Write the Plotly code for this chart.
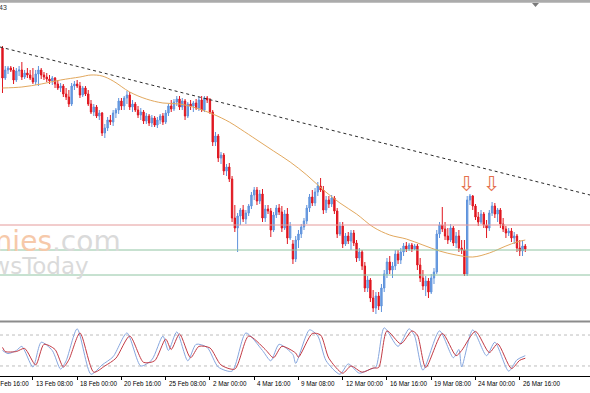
import plotly.graph_objects as go

W, H = 590, 393

# ---------------- data (H4 candles, prices) ----------------
opens = [1.1352,1.1322,1.1330,1.1332,1.1330,1.1320,1.1329,1.1330,1.1323,1.1327,
         1.1325,1.1322,1.1318,1.1326,1.1330,1.1325,1.1323,1.1321,1.1319,1.1322,
         1.1316,1.1312,1.1314,1.1306,1.1303,1.1296,1.1314,1.1316,1.1314,1.1305,
         1.1312,1.1306,1.1296,1.1288,1.1293,1.1284,1.1287,1.1267,1.1272,1.1280,
         1.1278,1.1287,1.1290,1.1299,1.1294,1.1302,1.1305,1.1293,1.1296,1.1290,
         1.1285,1.1288,1.1279,1.1284,1.1277,1.1282,1.1275,1.1280,1.1284,1.1278,
         1.1287,1.1294,1.1291,1.1298,1.1301,1.1293,1.1299,1.1284,1.1296,1.1294,
         1.1297,1.1292,1.1300,1.1290,1.1302,1.1300,1.1288,1.1258,1.1264,1.1242,
         1.1245,1.1229,1.1233,1.1221,1.1182,1.1172,1.1184,1.1190,1.1181,1.1187,
         1.1194,1.1205,1.1210,1.1199,1.1206,1.1182,1.1191,1.1189,1.1170,1.1185,
         1.1192,1.1188,1.1172,1.1186,1.1162,1.1156,1.1141,1.1160,1.1166,1.1173,
         1.1179,1.1192,1.1203,1.1197,1.1208,1.1214,1.1210,1.1190,1.1200,1.1196,
         1.1202,1.1189,1.1166,1.1174,1.1156,1.1164,1.1159,1.1167,1.1157,1.1142,
         1.1148,1.1134,1.1112,1.1120,1.1102,1.1092,1.1104,1.1094,1.1112,1.1126,
         1.1138,1.1130,1.1134,1.1146,1.1140,1.1148,1.1154,1.1151,1.1155,1.1151,
         1.1154,1.1135,1.1122,1.1114,1.1119,1.1108,1.1122,1.1128,1.1166,1.1175,
         1.1171,1.1164,1.1160,1.1172,1.1157,1.1164,1.1152,1.1150,1.1126,1.1200,
         1.1204,1.1194,1.1183,1.1178,1.1186,1.1175,1.1172,1.1187,1.1194,1.1186,
         1.1190,1.1176,1.1171,1.1167,1.1169,1.1162,1.1164,1.1152,1.1149,1.1154]
highs = [1.1354,1.1334,1.1334,1.1334,1.1333,1.1332,1.1334,1.1338,1.1330,1.1332,
         1.1330,1.1332,1.1330,1.1334,1.1332,1.1328,1.1327,1.1325,1.1324,1.1323,
         1.1320,1.1317,1.1316,1.1312,1.1310,1.1317,1.1319,1.1320,1.1318,1.1314,
         1.1314,1.1310,1.1300,1.1296,1.1295,1.1290,1.1288,1.1276,1.1283,1.1285,
         1.1290,1.1292,1.1302,1.1302,1.1304,1.1309,1.1308,1.1300,1.1298,1.1294,
         1.1292,1.1290,1.1287,1.1286,1.1285,1.1284,1.1283,1.1286,1.1287,1.1290,
         1.1296,1.1300,1.1301,1.1304,1.1304,1.1302,1.1301,1.1298,1.1300,1.1299,
         1.1301,1.1303,1.1304,1.1304,1.1304,1.1302,1.1290,1.1268,1.1266,1.1248,
         1.1247,1.1236,1.1237,1.1224,1.1195,1.1187,1.1192,1.1195,1.1190,1.1196,
         1.1208,1.1213,1.1213,1.1210,1.1211,1.1195,1.1195,1.1192,1.1188,1.1195,
         1.1196,1.1194,1.1190,1.1192,1.1178,1.1160,1.1164,1.1170,1.1176,1.1182,
         1.1195,1.1206,1.1210,1.1212,1.1218,1.1222,1.1214,1.1204,1.1204,1.1205,
         1.1204,1.1192,1.1178,1.1178,1.1167,1.1168,1.1170,1.1170,1.1160,1.1152,
         1.1150,1.1138,1.1124,1.1122,1.1110,1.1108,1.1108,1.1116,1.1130,1.1142,
         1.1144,1.1138,1.1150,1.1150,1.1152,1.1157,1.1158,1.1157,1.1157,1.1156,
         1.1156,1.1142,1.1130,1.1124,1.1122,1.1126,1.1132,1.1170,1.1178,1.1193,
         1.1178,1.1172,1.1176,1.1174,1.1168,1.1170,1.1160,1.1160,1.1204,1.1206,
         1.1205,1.1196,1.1188,1.1190,1.1188,1.1180,1.1190,1.1198,1.1197,1.1192,
         1.1192,1.1182,1.1174,1.1172,1.1172,1.1168,1.1166,1.1160,1.1160,1.1156]
lows = [1.1307,1.1320,1.1326,1.1328,1.1316,1.1318,1.1324,1.1320,1.1321,1.1322,
        1.1320,1.1316,1.1315,1.1314,1.1321,1.1320,1.1318,1.1316,1.1315,1.1312,
        1.1310,1.1308,1.1303,1.1300,1.1293,1.1294,1.1310,1.1312,1.1302,1.1303,
        1.1304,1.1294,1.1286,1.1284,1.1282,1.1280,1.1264,1.1262,1.1269,1.1275,
        1.1274,1.1282,1.1286,1.1290,1.1290,1.1296,1.1290,1.1288,1.1288,1.1282,
        1.1280,1.1276,1.1276,1.1274,1.1273,1.1273,1.1272,1.1276,1.1275,1.1276,
        1.1284,1.1288,1.1289,1.1294,1.1290,1.1290,1.1280,1.1282,1.1290,1.1288,
        1.1290,1.1289,1.1288,1.1288,1.1297,1.1286,1.1254,1.1254,1.1238,1.1236,
        1.1225,1.1224,1.1218,1.1178,1.1168,1.1148,1.1175,1.1178,1.1176,1.1184,
        1.1191,1.1200,1.1195,1.1196,1.1178,1.1178,1.1186,1.1163,1.1168,1.1182,
        1.1185,1.1168,1.1170,1.1156,1.1160,1.1136,1.1138,1.1152,1.1162,1.1170,
        1.1176,1.1188,1.1194,1.1194,1.1204,1.1208,1.1186,1.1187,1.1192,1.1193,
        1.1186,1.1162,1.1164,1.1152,1.1154,1.1156,1.1150,1.1154,1.1138,1.1139,
        1.1130,1.1108,1.1108,1.1098,1.1088,1.1086,1.1090,1.1088,1.1108,1.1122,
        1.1126,1.1122,1.1130,1.1136,1.1136,1.1144,1.1148,1.1149,1.1148,1.1150,
        1.1130,1.1118,1.1110,1.1104,1.1102,1.1106,1.1116,1.1126,1.1162,1.1168,
        1.1160,1.1156,1.1158,1.1154,1.1152,1.1148,1.1146,1.1124,1.1124,1.1195,
        1.1190,1.1180,1.1174,1.1176,1.1172,1.1162,1.1169,1.1184,1.1182,1.1178,
        1.1172,1.1168,1.1162,1.1164,1.1158,1.1156,1.1148,1.1144,1.1144,1.1148]
closes = [1.1322,1.1330,1.1332,1.1330,1.1320,1.1329,1.1330,1.1323,1.1327,1.1325,
          1.1322,1.1318,1.1326,1.1330,1.1325,1.1323,1.1321,1.1319,1.1322,1.1316,
          1.1312,1.1314,1.1306,1.1303,1.1296,1.1314,1.1316,1.1314,1.1305,1.1312,
          1.1306,1.1296,1.1288,1.1293,1.1284,1.1287,1.1267,1.1272,1.1280,1.1278,
          1.1287,1.1290,1.1299,1.1294,1.1302,1.1305,1.1293,1.1296,1.1290,1.1285,
          1.1288,1.1279,1.1284,1.1277,1.1282,1.1275,1.1280,1.1284,1.1278,1.1287,
          1.1294,1.1291,1.1298,1.1301,1.1293,1.1299,1.1284,1.1296,1.1294,1.1297,
          1.1292,1.1300,1.1290,1.1302,1.1300,1.1288,1.1258,1.1264,1.1242,1.1245,
          1.1229,1.1233,1.1221,1.1182,1.1172,1.1184,1.1190,1.1181,1.1187,1.1194,
          1.1205,1.1210,1.1199,1.1206,1.1182,1.1191,1.1189,1.1170,1.1185,1.1192,
          1.1188,1.1172,1.1186,1.1162,1.1174,1.1141,1.1160,1.1166,1.1173,1.1179,
          1.1192,1.1203,1.1197,1.1208,1.1214,1.1210,1.1190,1.1200,1.1196,1.1202,
          1.1189,1.1166,1.1174,1.1156,1.1164,1.1159,1.1167,1.1157,1.1142,1.1148,
          1.1134,1.1112,1.1120,1.1102,1.1092,1.1104,1.1094,1.1112,1.1126,1.1138,
          1.1130,1.1134,1.1146,1.1140,1.1148,1.1154,1.1151,1.1155,1.1151,1.1154,
          1.1135,1.1122,1.1114,1.1119,1.1108,1.1122,1.1128,1.1166,1.1175,1.1171,
          1.1164,1.1160,1.1172,1.1157,1.1164,1.1152,1.1150,1.1126,1.1200,1.1204,
          1.1194,1.1183,1.1178,1.1186,1.1175,1.1172,1.1187,1.1194,1.1186,1.1190,
          1.1176,1.1171,1.1167,1.1169,1.1162,1.1164,1.1152,1.1149,1.1154,1.1151]
bars = list(range(len(closes)))

# moving average (at sample bars)
ma_bars = [0,7,14,21,28,32,36,40,46,52,58,64,70,76,82,86,92,98,104,110,
           116,122,128,134,140,146,152,158,164,170,176,182,186,189]
ma_vals = [1.1312,1.1313,1.1316,1.1320,1.1323,1.1325,1.1324,1.1319,1.1308,1.1301,
           1.1297,1.1296,1.1292,1.1286,1.1278,1.1271,1.1260,1.1249,1.1238,1.1225,
           1.1210,1.1197,1.1186,1.1173,1.1165,1.1161,1.1155,1.1149,1.1145,1.1143,
           1.1147,1.1154,1.1158,1.1160]

# stochastic oscillator (%K blue, %D red)
k_bars = [0,2,5,7,11,14,18,21,23,27,32,36,40,45,50,54,58,60,63,67,70,74,78,83,88,
          94,97,100,105,106,111,114,117,122,125,129,133,135,138,143,147,149,152,
          158,163,165,166,170,175,178,183,186,189]
k_vals = [50,44,50,58,18,66,50,14,30,92,4,22,38,84,20,32,78,50,86,30,62,56,18,10,84,
          50,30,62,42,25,90,78,30,4,24,6,14,18,94,58,92,78,12,
          88,36,52,18,90,40,66,10,32,40]
d_bars = [0,1,5,8,12,15,19,22,24,28,33,37,41,46,51,55,59,61,64,68,71,75,79,84,89,
          95,98,101,106,107,112,115,118,123,126,130,134,136,139,144,148,150,153,
          159,164,166,171,176,179,184,187,189]
d_vals = [56,48,48,54,22,62,52,18,32,84,8,20,35,78,27,30,72,52,82,36,58,55,22,14,78,
          52,36,58,45,37,83,80,35,6,20,8,16,17,88,63,88,80,17,
          83,40,50,87,46,63,15,31,35]
stoch_levels = [80, 20]

tick_bars = [-5, 11, 27, 43, 59, 75, 91, 107, 123, 139, 155, 171, 187]
tick_labels = ["11 Feb 16:00", "13 Feb 08:00", "18 Feb 00:00", "20 Feb 16:00",
               "25 Feb 08:00", "2 Mar 00:00", "4 Mar 16:00", "9 Mar 08:00",
               "12 Mar 00:00", "16 Mar 16:00", "19 Mar 08:00", "24 Mar 00:00",
               "26 Mar 16:00"]

levels = [1.1175, 1.1150, 1.1125]
level_colors = ["#E59A9A", "#8FC4A2", "#8FC4A2"]
trend_bars = [-0.9, 212.4]
trend_prices = [1.1353, 1.1205]
arrow_bars = [168, 177]
arrow_prices = [1.1216, 1.1216]

# ---------------- layout geometry ----------------
X_RANGE = [-0.9, 212.4]
Y_RANGE = [1.1080, 1.1397]
main_dom = [(H - 320) / H, (H - 3) / H]
stoch_dom = [(H - 376.3) / H, (H - 324.7) / H]

fig = go.Figure()

fig.add_trace(go.Candlestick(
    x=bars, open=opens, high=highs, low=lows, close=closes,
    xaxis="x", yaxis="y",
    increasing=dict(line=dict(color="#5E92DC", width=1), fillcolor="#6FA0E2"),
    decreasing=dict(line=dict(color="#E0161F", width=1), fillcolor="#E0161F"),
    whiskerwidth=0, hoverinfo="skip"))

fig.add_trace(go.Scatter(x=ma_bars, y=ma_vals, mode="lines", xaxis="x", yaxis="y",
                         line=dict(color="#E2A85E", width=1, shape="spline", smoothing=1.0),
                         hoverinfo="skip"))

fig.add_trace(go.Scatter(x=trend_bars, y=trend_prices, mode="lines", xaxis="x", yaxis="y",
                         line=dict(color="#2a2a2a", width=1, dash="3px,3px"),
                         hoverinfo="skip"))

for lv, col in zip(levels, level_colors):
    fig.add_trace(go.Scatter(x=X_RANGE, y=[lv, lv], mode="lines", xaxis="x", yaxis="y",
                             line=dict(color=col, width=1), hoverinfo="skip"))

for lv in stoch_levels:
    fig.add_trace(go.Scatter(x=X_RANGE, y=[lv, lv], mode="lines", xaxis="x", yaxis="y2",
                             line=dict(color="#BDBDBD", width=1, dash="3px,3px"),
                             hoverinfo="skip"))

fig.add_trace(go.Scatter(x=k_bars, y=k_vals, mode="lines", xaxis="x", yaxis="y2",
                         line=dict(color="#86A6DE", width=1, shape="spline", smoothing=0.7),
                         hoverinfo="skip"))
fig.add_trace(go.Scatter(x=d_bars, y=d_vals, mode="lines", xaxis="x", yaxis="y2",
                         line=dict(color="#C23A44", width=1, shape="spline", smoothing=0.7),
                         hoverinfo="skip"))

annotations = []
# x labels (left-aligned after tick mark, MT4 style)
for b, t in zip(tick_bars, tick_labels):
    px = (b - X_RANGE[0]) / (X_RANGE[1] - X_RANGE[0])
    annotations.append(dict(xref="paper", yref="paper", x=px, y=(H - 383.5) / H,
                            text=t, showarrow=False, xanchor="left", yanchor="middle",
                            xshift=1, font=dict(family="Liberation Sans", size=6.3, color="#000")))
# arrows
for b, p in zip(arrow_bars, arrow_prices):
    annotations.append(dict(xref="x", yref="y", x=b, y=p, text="⇩", showarrow=False,
                            xanchor="center", yanchor="middle",
                            font=dict(family="DejaVu Sans", size=21, color="#E4704E")))
# watermark
annotations.append(dict(xref="paper", yref="paper", x=123 / W, y=(H - 241) / H,
                        text="<span style='color:#F6C9AA'>Economies</span><span style='color:#DADADA'>.com</span>",
                        showarrow=False, xanchor="right", yanchor="middle",
                        font=dict(family="DejaVu Sans", size=28)))
annotations.append(dict(xref="paper", yref="paper", x=91 / W, y=(H - 266) / H,
                        text="NewsToday", showarrow=False, xanchor="right", yanchor="middle",
                        font=dict(family="DejaVu Sans", size=23, color="#DADADA")))
# header fragment
annotations.append(dict(xref="paper", yref="paper", x=0, y=(H - 8) / H, text="43",
                        showarrow=False, xanchor="left", yanchor="middle", xshift=-3,
                        font=dict(family="Liberation Sans", size=7, color="#333")))

shapes = [
    dict(type="rect", xref="paper", yref="paper", x0=0, x1=1, y0=(H - 2.8) / H, y1=1,
         fillcolor="#ABABAB", line=dict(width=0), layer="above"),
    dict(type="path", xref="paper", yref="paper",
         path=f"M {532/W} {(H-3)/H} L {539/W} {(H-3)/H} L {535.5/W} {(H-7)/H} Z",
         fillcolor="#7A7A7A", line=dict(width=0)),
    dict(type="line", xref="paper", yref="paper", x0=0, x1=1, y0=(H - 321.5) / H,
         y1=(H - 321.5) / H, line=dict(color="#8C8C8C", width=2)),
]

fig.update_layout(
    width=W, height=H, margin=dict(l=0, r=0, t=0, b=0),
    paper_bgcolor="white", plot_bgcolor="white", showlegend=False,
    xaxis=dict(domain=[0, 1], range=X_RANGE, anchor="y2", showgrid=False, zeroline=False,
               showline=True, linecolor="#000", linewidth=1, ticks="outside", ticklen=3,
               tickcolor="#000", tickvals=tick_bars[1:], showticklabels=False,
               rangeslider=dict(visible=False), fixedrange=True),
    yaxis=dict(domain=main_dom, range=Y_RANGE, anchor="x", visible=False, fixedrange=True),
    yaxis2=dict(domain=stoch_dom, range=[0, 100], anchor="x", visible=False, fixedrange=True),
    annotations=annotations, shapes=shapes,
)

fig.write_html("out.html")
